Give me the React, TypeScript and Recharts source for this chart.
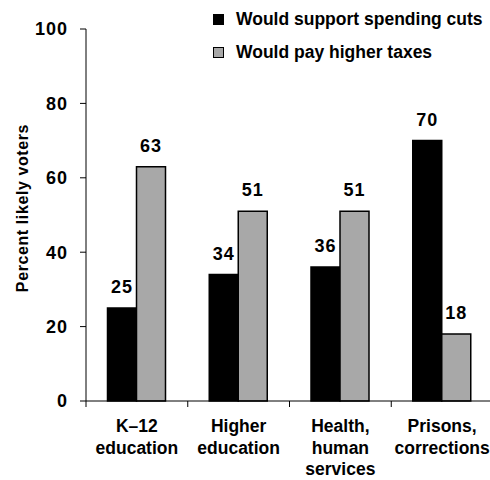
import { Bar, BarChart, LabelList, XAxis, YAxis } from "recharts";

const categories = [
  "K–12\neducation",
  "Higher\neducation",
  "Health,\nhuman\nservices",
  "Prisons,\ncorrections",
];
const supportCuts = [25, 34, 36, 70];
const payTaxes = [63, 51, 51, 18];
const yTicks = [0, 20, 40, 60, 80, 100];

const SERIES = [
  { key: "cuts", name: "Would support spending cuts", color: "#000000" },
  { key: "taxes", name: "Would pay higher taxes", color: "#a8a8a8" },
];

const FONT = '"Liberation Sans", Arial, sans-serif';

const data = categories.map((label, i) => ({
  label,
  cuts: supportCuts[i],
  taxes: payTaxes[i],
}));

function CategoryTick(props: any) {
  const { x, y, payload } = props;
  const half = payload?.offset ?? 50.875;
  const lines = String(payload.value).split("\n");
  return (
    <g>
      <line x1={x - half} x2={x - half} y1={y} y2={y + 6} stroke="#000" strokeWidth={1} />
      <text
        x={x}
        y={y}
        textAnchor="middle"
        fontFamily={FONT}
        fontWeight="bold"
        fontSize={17.5}
        fill="#000"
      >
        {lines.map((line, i) => (
          <tspan key={i} x={x} y={y + 31 + i * 21.5}>
            {line}
          </tspan>
        ))}
      </text>
    </g>
  );
}

function YTitle() {
  return (
    <text
      x={22}
      y={208}
      transform="rotate(-90, 22, 208)"
      textAnchor="middle"
      dominantBaseline="central"
      fontFamily={FONT}
      fontWeight="bold"
      fontSize={16}
      letterSpacing={0.6}
      fill="#000"
    >
      Percent likely voters
    </text>
  );
}

// legend sits over the chart, so it doesn't shrink the plot area
function LegendBox() {
  return (
    <div
      style={{
        position: "absolute",
        top: 3,
        left: 213,
        fontFamily: FONT,
        fontWeight: "bold",
        fontSize: 17.5,
        color: "#000",
        zIndex: 1,
      }}
    >
      {SERIES.map((s) => (
        <div key={s.key} style={{ display: "flex", alignItems: "center", height: 33 }}>
          <span
            style={{
              display: "inline-block",
              width: 9,
              height: 9,
              background: s.color,
              border: "1px solid #000",
              marginRight: 12,
            }}
          />
          {s.name}
        </div>
      ))}
    </div>
  );
}

export default function App() {
  return (
    <div
      style={{
        position: "absolute",
        left: 0,
        top: 0,
        width: 490,
        height: 480,
        overflow: "hidden",
        background: "#fff",
      }}
    >
      <LegendBox />
      <BarChart
        width={493}
        height={480}
        data={data}
        margin={{ top: 29, right: 0, left: 0, bottom: 0 }}
        barCategoryGap={21.5}
        barGap={0}
      >
        <XAxis
          dataKey="label"
          height={79}
          tickLine={false}
          tickSize={0}
          tickMargin={0}
          axisLine={{ stroke: "#000", strokeWidth: 1 }}
          tick={<CategoryTick />}
          interval={0}
        />
        <YAxis
          width={86}
          domain={[0, 100]}
          ticks={yTicks}
          tickSize={6}
          tickMargin={12}
          axisLine={{ stroke: "#000", strokeWidth: 1 }}
          tickLine={{ stroke: "#000", strokeWidth: 1 }}
          tick={{
            fontFamily: FONT,
            fontWeight: "bold",
            fontSize: 18,
            fill: "#000",
            letterSpacing: 1,
          }}
          label={<YTitle />}
        />
        {SERIES.map((s) => (
          <Bar
            key={s.key}
            dataKey={s.key}
            name={s.name}
            fill={s.color}
            stroke="#000"
            strokeWidth={1.5}
            isAnimationActive={false}
          >
            <LabelList
              dataKey={s.key}
              position="top"
              offset={15}
              style={{
                fontFamily: FONT,
                fontWeight: "bold",
                fontSize: 18,
                fill: "#000",
                letterSpacing: 1,
              }}
            />
          </Bar>
        ))}
      </BarChart>
    </div>
  );
}
